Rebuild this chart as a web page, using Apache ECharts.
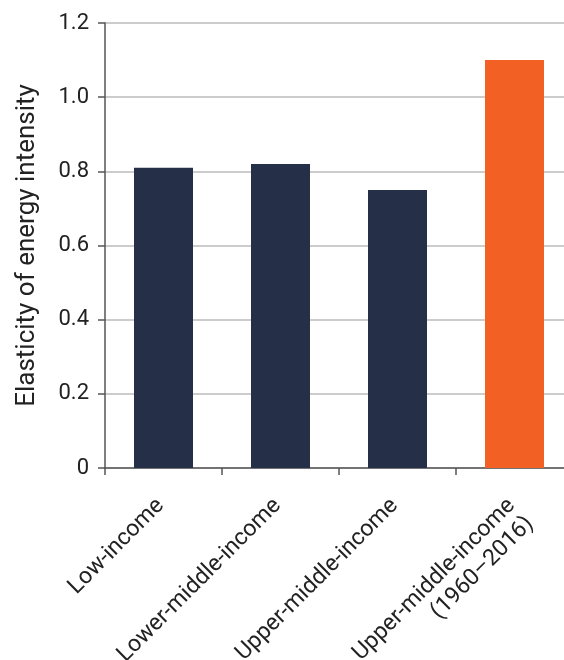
<!DOCTYPE html>
<html>
<head>
<meta charset="utf-8">
<script src="https://cdn.jsdelivr.net/npm/echarts@6/dist/echarts.min.js"></script>
<style>html,body{margin:0;padding:0;background:#fff;}#c{width:564px;height:660px;}</style>
</head>
<body>
<div id="c"></div>
<script>
const categories = ['Low-income', 'Lower-middle-income', 'Upper-middle-income', 'Upper-middle-income\n(1960–2016)'];
const values = [0.81, 0.82, 0.75, 1.10];
const barColors = ['#253048', '#253048', '#253048', '#f26123'];
const yTicks = { min: 0, max: 1.2, interval: 0.2 };

const chart = echarts.init(document.getElementById('c'), null, { renderer: 'canvas' });
chart.setOption({
  animation: false,
  textStyle: { fontFamily: 'Roboto' },
  grid: { left: 105, width: 468, top: 23, height: 445, containLabel: false, outerBoundsMode: 'none' },
  xAxis: {
    type: 'category',
    data: categories,
    axisLine: { lineStyle: { color: '#555', width: 1.5 } },
    axisTick: { show: true, alignWithLabel: false, length: 7, lineStyle: { color: '#555', width: 1.5 } },
    axisLabel: { rotate: 45, interval: 0, margin: 13, fontSize: 23, lineHeight: 26, verticalAlign: 'top',
      padding: [0, 17, 0, 0], color: '#222', fontFamily: 'Roboto' }
  },
  yAxis: {
    type: 'value',
    min: yTicks.min, max: yTicks.max, interval: yTicks.interval,
    name: 'Elasticity of energy intensity',
    nameLocation: 'middle',
    nameGap: 65,
    nameTextStyle: { fontSize: 26, color: '#222', fontFamily: 'Roboto' },
    axisLine: { show: true, lineStyle: { color: '#555', width: 1.5 } },
    axisTick: { show: true, length: 7, lineStyle: { color: '#555', width: 1.5 } },
    axisLabel: { fontSize: 22, color: '#222', margin: 16, fontFamily: 'Roboto',
      formatter: v => v === 0 ? '0' : v.toFixed(1) },
    splitLine: { show: true, lineStyle: { color: '#bbb', width: 1.5 } }
  },
  series: [{
    type: 'bar',
    data: values.map((v, i) => ({ value: v, itemStyle: { color: barColors[i] } })),
    barWidth: 59
  }]
});
</script>
</body>
</html>
